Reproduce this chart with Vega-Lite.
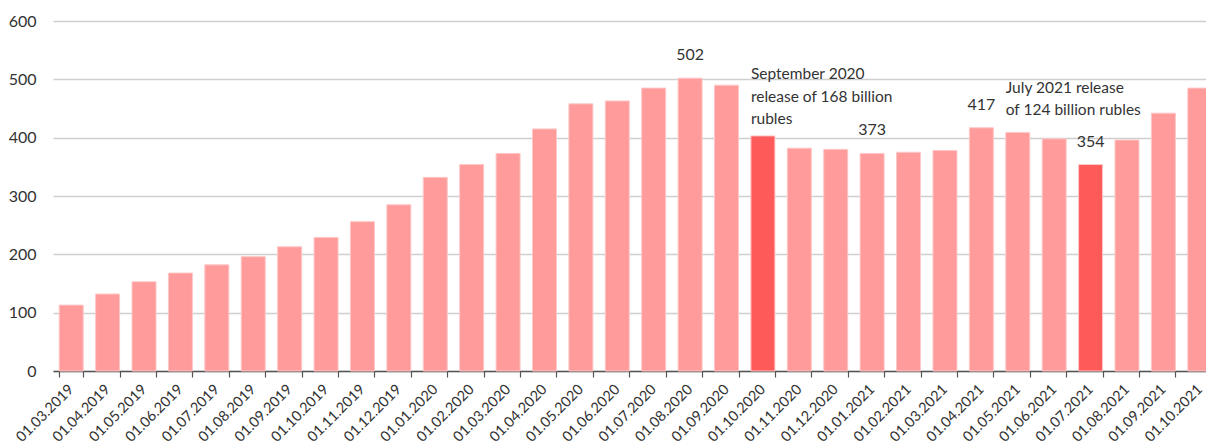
{
  "$schema": "https://vega.github.io/schema/vega-lite/v6.json",
  "autosize": {"type": "none"},
  "padding": {"left": 53, "top": 21, "right": 0, "bottom": 76},
  "width": 1165,
  "height": 350,
  "config": {
    "view": {"stroke": null},
    "font": "Lato",
    "text": {"font": "Lato"}
  },
  "datasets": {
    "bars": [
      {"date": "01.03.2019", "value": 113, "kind": "normal"},
      {"date": "01.04.2019", "value": 132, "kind": "normal"},
      {"date": "01.05.2019", "value": 153, "kind": "normal"},
      {"date": "01.06.2019", "value": 168, "kind": "normal"},
      {"date": "01.07.2019", "value": 182, "kind": "normal"},
      {"date": "01.08.2019", "value": 196, "kind": "normal"},
      {"date": "01.09.2019", "value": 213, "kind": "normal"},
      {"date": "01.10.2019", "value": 229, "kind": "normal"},
      {"date": "01.11.2019", "value": 256, "kind": "normal"},
      {"date": "01.12.2019", "value": 285, "kind": "normal"},
      {"date": "01.01.2020", "value": 332, "kind": "normal"},
      {"date": "01.02.2020", "value": 354, "kind": "normal"},
      {"date": "01.03.2020", "value": 373, "kind": "normal"},
      {"date": "01.04.2020", "value": 415, "kind": "normal"},
      {"date": "01.05.2020", "value": 458, "kind": "normal"},
      {"date": "01.06.2020", "value": 463, "kind": "normal"},
      {"date": "01.07.2020", "value": 485, "kind": "normal"},
      {"date": "01.08.2020", "value": 502, "kind": "normal", "label": "502"},
      {"date": "01.09.2020", "value": 490, "kind": "normal"},
      {"date": "01.10.2020", "value": 403, "kind": "release"},
      {"date": "01.11.2020", "value": 382, "kind": "normal"},
      {"date": "01.12.2020", "value": 380, "kind": "normal"},
      {"date": "01.01.2021", "value": 373, "kind": "normal", "label": "373"},
      {"date": "01.02.2021", "value": 375, "kind": "normal"},
      {"date": "01.03.2021", "value": 378, "kind": "normal"},
      {"date": "01.04.2021", "value": 417, "kind": "normal", "label": "417"},
      {"date": "01.05.2021", "value": 409, "kind": "normal"},
      {"date": "01.06.2021", "value": 398, "kind": "normal"},
      {"date": "01.07.2021", "value": 354, "kind": "release", "label": "354"},
      {"date": "01.08.2021", "value": 396, "kind": "normal"},
      {"date": "01.09.2021", "value": 442, "kind": "normal"},
      {"date": "01.10.2021", "value": 485, "kind": "normal"}
    ],
    "notes": [
      {"date": "01.10.2020", "y": 500, "text": "September 2020\nrelease of 168 billion\nrubles", "shift": 7},
      {"date": "01.05.2021", "y": 477, "text": "July 2021 release\nof 124 billion rubles", "shift": 10}
    ]
  },
  "layer": [
    {
      "data": {"name": "bars"},
      "mark": {"type": "bar", "stroke": "#ffc8c8", "strokeWidth": 1},
      "encoding": {
        "x": {
          "field": "date", "type": "nominal", "sort": null,
          "scale": {"paddingInner": 0.34, "paddingOuter": 0.17},
          "axis": {
            "title": null, "labelAngle": -45, "labelFontSize": 14.5, "labelColor": "#333333",
            "labelFont": "Lato", "labelAlign": "right", "labelBaseline": "middle",
            "tickBand": "extent", "tickSize": 6, "tickColor": "#555555", "domainColor": "#555555",
            "domainWidth": 1.5, "tickWidth": 1.2, "labelPadding": 10, "grid": false
          }
        },
        "y": {
          "field": "value", "type": "quantitative",
          "scale": {"domain": [0, 600], "nice": false},
          "axis": {
            "title": null, "values": [0, 100, 200, 300, 400, 500, 600],
            "domain": false, "ticks": false, "labelPadding": 17,
            "labelFontSize": 16, "labelColor": "#333333", "labelFont": "Lato",
            "gridColor": "#cfcfcf", "gridWidth": 1.5
          }
        },
        "color": {
          "field": "kind", "type": "nominal",
          "scale": {"domain": ["normal", "release"], "range": ["#ff9b9b", "#ff5a5a"]},
          "legend": null
        }
      }
    },
    {
      "data": {"name": "bars"},
      "transform": [{"filter": "datum.label != null"}],
      "mark": {"type": "text", "dy": -18, "baseline": "alphabetic", "fontSize": 16, "color": "#333333"},
      "encoding": {
        "x": {"field": "date", "type": "nominal", "sort": null},
        "y": {"field": "value", "type": "quantitative"},
        "text": {"field": "label"}
      }
    },
    {
      "data": {"name": "notes"},
      "mark": {"type": "text", "align": "left", "baseline": "alphabetic", "lineBreak": "\n", "lineHeight": 22.5, "fontSize": 15.5, "color": "#333333"},
      "encoding": {
        "x": {"field": "date", "type": "nominal", "sort": null, "bandPosition": 0},
        "y": {"field": "y", "type": "quantitative"},
        "text": {"field": "text"},
        "dx": {"field": "shift", "type": "quantitative", "scale": null}
      }
    }
  ]
}
